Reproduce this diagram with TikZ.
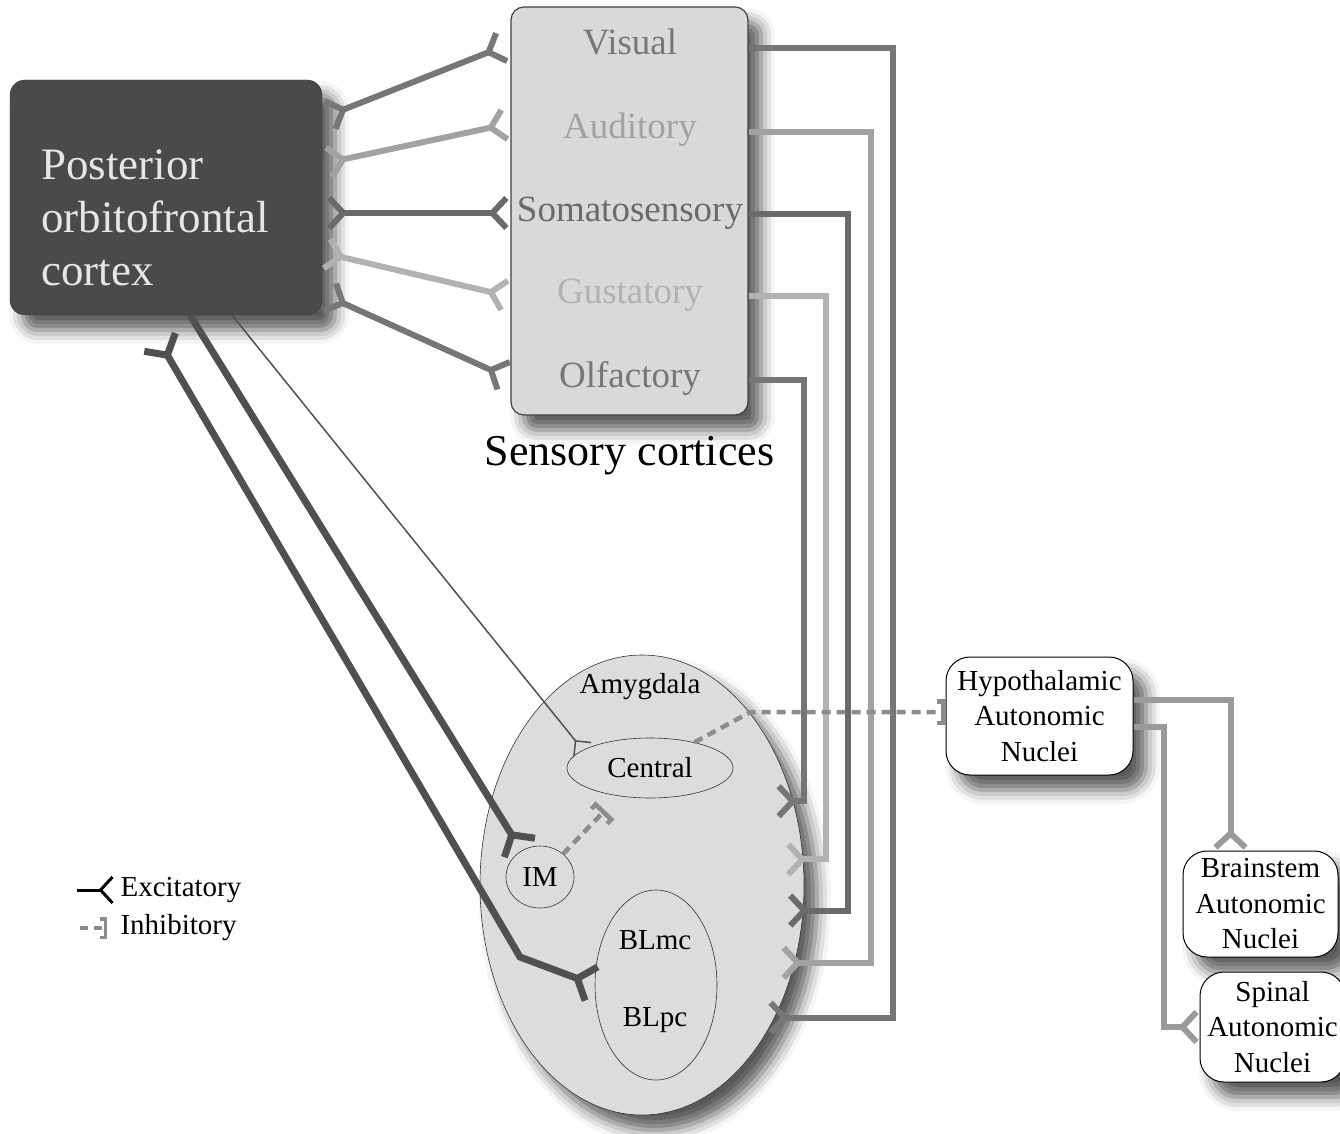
\documentclass[tikz,border=0pt]{standalone}
\usepackage{fontspec}
\setmainfont{Liberation Serif}
\usetikzlibrary{arrows.meta, positioning, shapes.geometric, shadows.blur}

\definecolor{ofcgray}{HTML}{4A4A4A}
\definecolor{ofctext}{HTML}{E6E6E6}
\definecolor{cortexgray}{HTML}{D9D9D9}
\definecolor{amygray}{HTML}{DCDCDC}
\definecolor{visgray}{HTML}{767676}
\definecolor{audgray}{HTML}{A2A2A2}
\definecolor{somgray}{HTML}{6A6A6A}
\definecolor{gusgray}{HTML}{B2B2B2}
\definecolor{olfgray}{HTML}{767676}
\definecolor{autgray}{HTML}{9A9A9A}
\definecolor{inhgray}{HTML}{8C8C8C}
\definecolor{projgray}{HTML}{505050}

\tikzset{
  Fork/.tip={Straight Barb[reversed, length=14pt, width=30pt]},
  BigFork/.tip={Straight Barb[reversed, length=15pt, width=36pt]},
  SmallFork/.tip={Straight Barb[reversed, length=11pt, width=22pt]},
  Stop/.tip={Bracket[width=26pt, length=6pt]}
}

\begin{document}
\begin{tikzpicture}[x=1pt, y=-1pt,
  shade/.style={blur shadow={shadow xshift=13pt, shadow yshift=-15pt, shadow blur radius=14pt, shadow opacity=65}},
  ofcbox/.style={draw=ofcgray!80!black, fill=ofcgray, rounded corners=15pt, minimum width=312pt, minimum height=235pt, shade},
  cortexbox/.style={draw=black!75, line width=1.2pt, fill=cortexgray, rounded corners=13pt, minimum width=237pt, minimum height=408pt, shade},
  nucleus/.style={draw=black, line width=1pt, fill=white, rounded corners=24pt, align=center, inner sep=0pt, font=\fontsize{29}{35.5}\selectfont, shade},
  region/.style={ellipse, draw=black!80, line width=0.6pt, inner sep=0pt},
  sense/.style={font=\fontsize{37}{40}\selectfont, anchor=base, text height=24pt, text depth=10pt},
  small/.style={font=\fontsize{29}{34}\selectfont},
  excit/.style={line width=6pt, line join=miter, -Fork},
  proj/.style={line width=7pt, projgray, line join=miter},
  inhib/.style={inhgray, line width=4.5pt, dash pattern=on 9pt off 6pt, -Stop}
]
\useasboundingbox (0,0) rectangle (1340,1134);

\node[ofcbox] (ofc) at (166,197.5) {};
\node[anchor=west, align=left, text=ofctext, font=\fontsize{45}{53}\selectfont] (ofclabel) at ([xshift=28, yshift=-20]ofc.west) {Posterior\\orbitofrontal\\cortex};

\node[cortexbox] (sensory) at (629.5,211) {};
\node[sense, text=visgray] (visual) at (630,55) {Visual};
\node[sense, text=audgray] (auditory) at (630,139) {Auditory};
\node[sense, text=somgray] (soma) at (630,221) {Somatosensory};
\node[sense, text=gusgray] (gust) at (630,303) {Gustatory};
\node[sense, text=olfgray] (olf) at (630,387) {Olfactory};
\node[font=\fontsize{44}{50}\selectfont, below=17pt of sensory] (senslabel) {Sensory cortices};

\node[region, fill=amygray, minimum width=324pt, minimum height=460pt, shade] (amyg) at (642,885) {};
\node[small] (amylabel) at (640,687) {Amygdala};
\node[region, small, minimum width=166pt, minimum height=60pt] (central) at (650,768) {Central};
\node[region, small, minimum width=68pt, minimum height=62pt] (im) at (540,877) {IM};
\node[region, minimum width=122pt, minimum height=190pt] (bl) at (656,985) {};
\node[small] (blmc) at (655,940) {BLmc};
\node[small] (blpc) at (655,1020) {BLpc};

\node[nucleus, minimum width=187pt, minimum height=118pt] (hypo) at (1039.5,716) {Hypothalamic\\Autonomic\\Nuclei};
\node[nucleus, minimum width=155pt, minimum height=106pt] (brain) at (1260.5,904) {Brainstem\\Autonomic\\Nuclei};
\node[nucleus, minimum width=145pt, minimum height=110pt] (spinal) at (1272.5,1027) {Spinal\\Autonomic\\Nuclei};

\node[small, anchor=west] (exclabel) at (117,890) {Excitatory};
\node[small, anchor=west] (inhlabel) at (117,928) {Inhibitory};

\draw[excit, visgray, Fork-Fork] ([shift={(5,-81.5)}]ofc.east) -- ([shift={(-6,-165)}]sensory.west);
\draw[excit, audgray, Fork-Fork] ([shift={(4,-34.5)}]ofc.east) -- ([shift={(-3,-87)}]sensory.west);
\draw[excit, somgray, Fork-Fork] ([shift={(4,15.5)}]ofc.east) -- ([shift={(-1,2)}]sensory.west);
\draw[excit, gusgray, Fork-Fork] ([shift={(2,55.5)}]ofc.east) -- ([shift={(-3,85)}]sensory.west);
\draw[excit, olfgray, Fork-Fork] ([shift={(5,98.5)}]ofc.east) -- ([shift={(-4,166)}]sensory.west);

\draw[excit, visgray] (sensory.east |- visual) -- ++(144,0) |- ([xshift=-7]amyg.-45);
\draw[excit, audgray] (sensory.east |- auditory) -- ++(122,0) |- ([xshift=-14]amyg.-27);
\draw[excit, somgray] (sensory.east |- soma) -- ++(99,0) |- ([xshift=-16]amyg.-9.5);
\draw[excit, gusgray] (sensory.east |- gust) -- ++(77,0) |- ([xshift=-18]amyg.9.5);
\draw[excit, olfgray] (sensory.east |- olf) -- ++(55,0) |- ([xshift=-17.5]amyg.29.5);

\draw[proj, BigFork-BigFork] ([shift={(-8,24)}]ofc.south) -- (520,957) -- (bl.west);
\draw[proj, -BigFork] ([xshift=24]ofc.south) -- (im.125);
\draw[line width=1.5pt, projgray, -SmallFork] ([xshift=66]ofc.south) -- (central.165);

\draw[inhib] (central.30) -- ([shift={(-195,-4)}]hypo.west) -- ([yshift=4]hypo.west);
\draw[inhib] (im.45) -- ([shift={(-45,12)}]central.south);

\draw[excit, autgray] ([yshift=16]hypo.east) -| ([xshift=-30]brain.north);
\draw[excit, autgray] ([yshift=-11]hypo.east) -- ++(30,0) |- (spinal.west);

\draw[black, line width=3pt, -{Straight Barb[reversed, length=12pt, width=26pt]}] ([xshift=-40]exclabel.west) -- ([xshift=-3]exclabel.west);
\draw[inhib, line width=3.5pt, dash pattern=on 8pt off 6pt, -{Bracket[width=22pt, length=5pt]}] ([xshift=-37]inhlabel.west) -- ([xshift=-10]inhlabel.west);
\end{tikzpicture}
\end{document}
